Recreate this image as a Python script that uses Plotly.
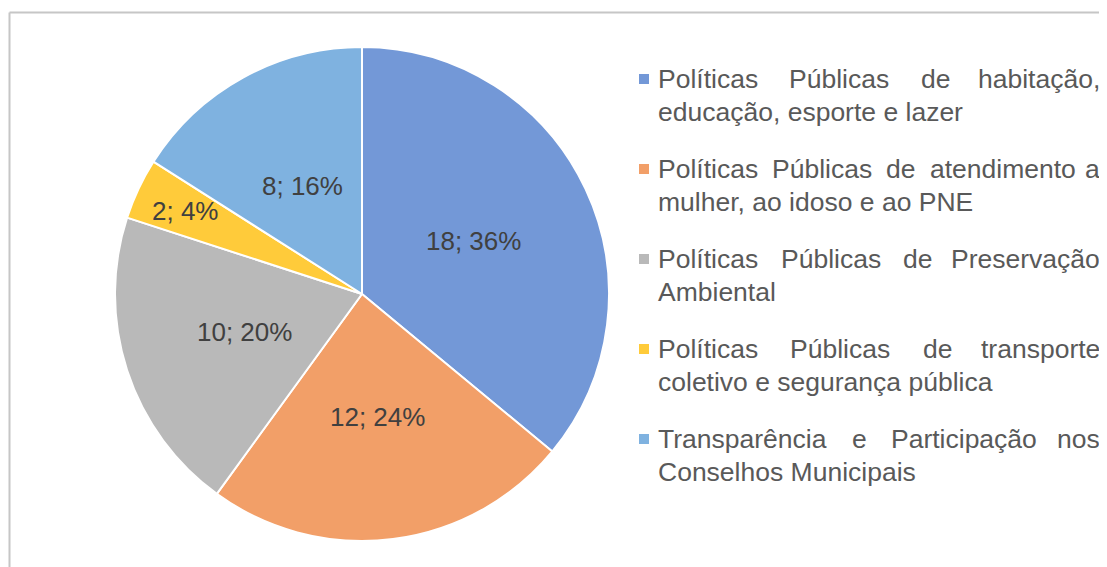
import math
import plotly.graph_objects as go

# ---------------- data ----------------
categories = [
    "Políticas Públicas de habitação, educação, esporte e lazer",
    "Políticas Públicas de atendimento a mulher, ao idoso e ao PNE",
    "Políticas Públicas de Preservação Ambiental",
    "Políticas Públicas de transporte coletivo e segurança pública",
    "Transparência e Participação nos Conselhos Municipais",
]
values = [18, 12, 10, 2, 8]

# legend text split into the two displayed lines
legend_line1 = [
    "Políticas Públicas de habitação,",
    "Políticas Públicas de atendimento a",
    "Políticas Públicas de Preservação",
    "Políticas Públicas de transporte",
    "Transparência e Participação nos",
]
legend_line2 = [
    "educação, esporte e lazer",
    "mulher, ao idoso e ao PNE",
    "Ambiental",
    "coletivo e segurança pública",
    "Conselhos Municipais",
]

# ---------------- style ----------------
colors = ["#7398D7", "#F29F68", "#B9B9B9", "#FFCB3A", "#7FB2E0"]
VIEW_W, VIEW_H = 1107, 567
OFF = 8  # page body margin
W, H = VIEW_W - OFF, VIEW_H - OFF
PIE_L, PIE_R, PIE_T, PIE_B = 115, 609, 47, 541
label_radius = [0.5, 0.5, 0.5, 0.79, 0.5]
LEG_TXT_X = 656
LEG_RIGHT = 1102
LEG_Y0 = 79
LEG_STEP = 90
LINE_GAP = 33
TXT_COLOR = "#595959"
FONT = "Liberation Sans, Arial, sans-serif"
LEG_SIZE = 26.5

# Arial / Liberation Sans advance widths (1/1000 em) for justification
ADV = {
    "P": 667, "o": 556, "l": 222, "í": 278, "t": 278, "i": 222, "c": 500,
    "a": 556, "s": 500, "ú": 556, "b": 556, "d": 556, "e": 556, "h": 556,
    "ç": 500, "ã": 556, ",": 278, "n": 556, "m": 833, "r": 333, "v": 500,
    "T": 611, "ê": 556, "p": 556,
}


def text_w(word, size):
    return sum(ADV.get(ch, 556) for ch in word) / 1000 * size


def fx(p):
    return (p - OFF) / W


def fy(p):
    return 1 - (p - OFF) / H


fig = go.Figure()
fig.add_trace(
    go.Pie(
        labels=categories,
        values=values,
        sort=False,
        direction="clockwise",
        rotation=0,
        marker=dict(colors=colors, line=dict(color="white", width=2)),
        textinfo="none",
        hoverinfo="label+value+percent",
        showlegend=False,
        domain=dict(x=[fx(PIE_L), fx(PIE_R)], y=[fy(PIE_B), fy(PIE_T)]),
    )
)

annotations = []
shapes = []

# data labels at slice mid-angles
total = sum(values)
cx = (PIE_L + PIE_R) / 2
cy = (PIE_T + PIE_B) / 2
R = (PIE_R - PIE_L) / 2
cum = 0
for v, rf in zip(values, label_radius):
    mid = (cum + v / 2) / total * 2 * math.pi
    cum += v
    x = cx + rf * R * math.sin(mid)
    y = cy - rf * R * math.cos(mid)
    annotations.append(
        dict(
            x=fx(x), y=fy(y), xref="paper", yref="paper",
            text=f"{v}; {round(v / total * 100)}%",
            showarrow=False, xanchor="center", yanchor="middle",
            font=dict(family=FONT, size=26, color="#404040"),
        )
    )

# custom justified legend
for i, (line1, l2, col) in enumerate(zip(legend_line1, legend_line2, colors)):
    y1 = LEG_Y0 + i * LEG_STEP
    words = line1.split(" ")
    widths = [text_w(w, LEG_SIZE) for w in words]
    gap = (LEG_RIGHT - LEG_TXT_X - sum(widths)) / (len(words) - 1)
    x = LEG_TXT_X
    for j, (w, ww) in enumerate(zip(words, widths)):
        last = j == len(words) - 1
        annotations.append(
            dict(
                x=fx(LEG_RIGHT if last else x), y=fy(y1), xref="paper", yref="paper",
                text=w, showarrow=False,
                xanchor="right" if last else "left", yanchor="middle",
                font=dict(family=FONT, size=LEG_SIZE, color=TXT_COLOR),
            )
        )
        x += ww + gap
    annotations.append(
        dict(
            x=fx(LEG_TXT_X), y=fy(y1 + LINE_GAP), xref="paper", yref="paper",
            text=l2, showarrow=False, xanchor="left", yanchor="middle",
            font=dict(family=FONT, size=LEG_SIZE, color=TXT_COLOR),
        )
    )
    shapes.append(
        dict(
            type="rect", xref="paper", yref="paper",
            x0=fx(639), x1=fx(649), y0=fy(y1 - 5), y1=fy(y1 + 5),
            fillcolor=col, line=dict(width=0),
        )
    )

# chart frame (top and left edges visible)
shapes.append(dict(type="line", xref="paper", yref="paper",
                   x0=fx(9.5), x1=fx(1102), y0=fy(12.5), y1=fy(12.5),
                   line=dict(color="#C6C6C6", width=2)))
shapes.append(dict(type="line", xref="paper", yref="paper",
                   x0=fx(9.5), x1=fx(9.5), y0=fy(12.5), y1=0,
                   line=dict(color="#C6C6C6", width=2)))

fig.update_layout(
    width=W, height=H,
    margin=dict(l=0, r=0, t=0, b=0),
    paper_bgcolor="white",
    plot_bgcolor="white",
    annotations=annotations,
    shapes=shapes,
    font=dict(family=FONT),
)

fig.write_html("out.html")
